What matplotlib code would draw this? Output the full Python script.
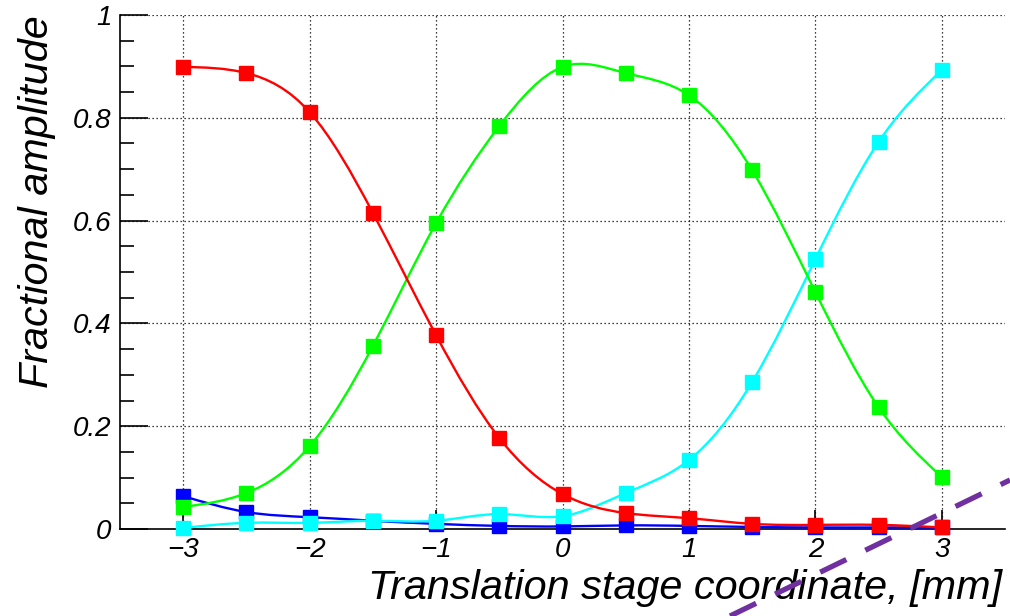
import numpy as np
import matplotlib
matplotlib.use("Agg")
import matplotlib.pyplot as plt
from matplotlib.path import Path
from matplotlib.patches import PathPatch
from matplotlib.lines import Line2D

# Stage positions [mm] and fractional amplitudes per channel
positions = [-3.0, -2.5, -2.0, -1.5, -1.0, -0.5, 0.0, 0.5, 1.0, 1.5, 2.0, 2.5, 3.0]
amp_red = [0.899, 0.887, 0.811, 0.615, 0.377, 0.177, 0.068, 0.031, 0.021, 0.010, 0.008, 0.008, 0.003]
amp_green = [0.043, 0.070, 0.161, 0.356, 0.595, 0.784, 0.899, 0.887, 0.844, 0.698, 0.461, 0.237, 0.101]
amp_cyan = [0.002, 0.012, 0.012, 0.016, 0.016, 0.029, 0.025, 0.070, 0.134, 0.286, 0.525, 0.753, 0.893]
amp_blue = [0.064, 0.033, 0.023, 0.016, 0.010, 0.006, 0.005, 0.007, 0.006, 0.004, 0.003, 0.003, 0.003]

x_ticks = [-3, -2, -1, 0, 1, 2, 3]
x_tick_labels = ["\u22123", "\u22122", "\u22121", "0", "1", "2", "3"]
y_ticks = [0, 0.2, 0.4, 0.6, 0.8, 1.0]
y_tick_labels = ["0", "0.2", "0.4", "0.6", "0.8", "1"]


def spline_path(x, y):
    """Natural cubic spline through the points, expressed as Bezier segments."""
    x = np.asarray(x, float)
    y = np.asarray(y, float)
    n = len(x)
    h = np.diff(x)
    A = np.zeros((n, n))
    b = np.zeros(n)
    A[0, 0] = A[-1, -1] = 1.0
    for i in range(1, n - 1):
        A[i, i - 1] = h[i - 1]
        A[i, i] = 2 * (h[i - 1] + h[i])
        A[i, i + 1] = h[i]
        b[i] = 6 * ((y[i + 1] - y[i]) / h[i] - (y[i] - y[i - 1]) / h[i - 1])
    M = np.linalg.solve(A, b)
    # first derivatives at knots
    d = np.zeros(n)
    for i in range(n - 1):
        d[i] = (y[i + 1] - y[i]) / h[i] - h[i] * (2 * M[i] + M[i + 1]) / 6
    d[-1] = (y[-1] - y[-2]) / h[-1] + h[-1] * (M[-2] + 2 * M[-1]) / 6
    verts = [(x[0], y[0])]
    codes = [Path.MOVETO]
    for i in range(n - 1):
        t = h[i] / 3
        verts += [(x[i] + t, y[i] + t * d[i]),
                  (x[i + 1] - t, y[i + 1] - t * d[i + 1]),
                  (x[i + 1], y[i + 1])]
        codes += [Path.CURVE4] * 3
    return Path(verts, codes)


fig = plt.figure(figsize=(10.1, 6.16), dpi=100)
ax = fig.add_axes([120 / 1010, 87 / 616, 885 / 1010, 514 / 616])

ax.set_xlim(-3.5, 3.5)
ax.set_ylim(0, 1)

# dotted grid
for xv in x_ticks:
    ax.axvline(xv, color="black", lw=0.9, ls=(0, (1, 2.2)), zorder=1)
for yv in y_ticks[1:]:
    ax.axhline(yv, color="black", lw=0.9, ls=(0, (1, 2.2)), zorder=1)

series = [(amp_blue, "#0000ff"), (amp_cyan, "#00ffff"),
          (amp_green, "#00ff00"), (amp_red, "#ff0000")]
for k, (vals, col) in enumerate(series):
    patch = PathPatch(spline_path(positions, vals), facecolor="none",
                      edgecolor=col, lw=1.7, zorder=3 + k)
    ax.add_patch(patch)
    ax.plot(positions, vals, ls="none", marker="s", ms=9.5, color=col,
            mec=col, zorder=3.5 + k, clip_on=False)

for side in ("top", "right"):
    ax.spines[side].set_visible(False)
for side in ("left", "bottom"):
    ax.spines[side].set_linewidth(1.2)
    ax.spines[side].set_zorder(2)

tick_font = dict(family="Liberation Sans", style="italic", size=20)
ax.set_xticks(x_ticks)
ax.set_xticklabels(x_tick_labels, fontdict=tick_font)
ax.set_yticks(y_ticks)
ax.set_yticklabels(y_tick_labels, fontdict=tick_font)
ax.set_yticks(np.arange(0.05, 1.0, 0.05), minor=True)
ax.tick_params(axis="y", which="major", direction="in", length=20, width=1.2, pad=6)
ax.tick_params(axis="y", which="minor", direction="in", length=10, width=1.2)
ax.tick_params(axis="x", which="major", direction="in", length=14, width=1.2, pad=6)

title_font = dict(family="Liberation Sans", style="italic", size=29.8)
fig.text(1002 / 1010, 1 - 599 / 616, "Translation stage coordinate, [mm]",
         ha="right", va="baseline", **title_font)
fig.text(37 / 1010, 1 - 15 / 616, "Fractional amplitude", rotation=90,
         ha="center", va="top", **title_font)

# dashed purple guide line across the lower right corner
fig.add_artist(Line2D([730 / 1010, 1.0], [0.0, (616 - 480) / 616],
                      transform=fig.transFigure, color="#7030a0", lw=3.8,
                      ls=(0, (5.5, 4.0)), dash_capstyle="butt", zorder=10))

fig.savefig("out.png", dpi=100)
